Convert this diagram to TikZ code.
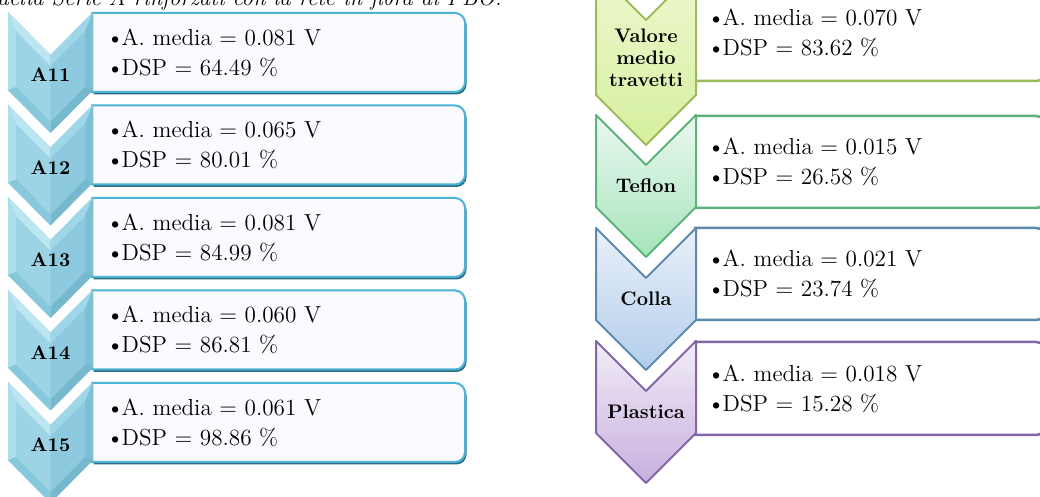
\documentclass[tikz,border=0pt]{standalone}
\usepackage{tikz}
\usetikzlibrary{positioning}

\definecolor{cheva}{HTML}{BCE5F2}
\definecolor{chevb}{HTML}{9FD6E8}
\definecolor{chevc}{HTML}{7DBFD5}
\definecolor{chevd}{HTML}{76B8CE}
\definecolor{cheve}{HTML}{88C8DC}
\definecolor{chevf}{HTML}{AEDDEC}
\definecolor{chevg}{HTML}{9CD4E6}
\definecolor{chevh}{HTML}{8DCAE0}
\definecolor{bluebox}{HTML}{4BB3D6}
\definecolor{blueshade}{HTML}{2F6F84}
\definecolor{boxfill}{HTML}{FBFBFF}

\definecolor{valoreline}{HTML}{9BBB59}
\definecolor{valoretop}{HTML}{EEF8D0}
\definecolor{valorebot}{HTML}{D5EF9E}
\definecolor{teflonline}{HTML}{5CB37C}
\definecolor{teflontop}{HTML}{EAF8EF}
\definecolor{teflonbot}{HTML}{A6E4BB}
\definecolor{collaline}{HTML}{5E8AAE}
\definecolor{collatop}{HTML}{E9F0FA}
\definecolor{collabot}{HTML}{B3CEEB}
\definecolor{plasticaline}{HTML}{8466A8}
\definecolor{plasticatop}{HTML}{F2ECF7}
\definecolor{plasticabot}{HTML}{C7B0DE}

\tikzset{
  boxtext/.style={font=\fontsize{11.6}{15}\selectfont, align=left, anchor=west, inner sep=0pt},
  chevlabel/.style={font=\fontsize{9.8}{11}\selectfont\bfseries, align=center, inner sep=0pt},
  leftbox/.style={draw=bluebox, fill=boxfill, line width=1pt},
  rightbox/.style={draw=#1, fill=white, line width=1.25pt},
}

\newcommand{\bul}{\textbullet\kern-1.2pt}

% #1 name, #2 top, #3 label, #4 A. media, #5 DSP
\newcommand{\leftrow}[5]{%
  \begin{scope}[shift={(0,#2)}]
    \fill[blueshade] (93.5,3) -- (300,3) [rounded corners=5pt] -- (466.5,3) -- (466.5,82.5) -- (300,82.5) [sharp corners] -- (93.5,82.5) -- cycle;
    \draw[leftbox] (92,1) -- (300,1) [rounded corners=5pt] -- (465,1) -- (465,80) -- (300,80) [sharp corners] -- (92,80) -- cycle;
    \coordinate (o1) at (8,0);      \coordinate (i1) at (16,19.4);
    \coordinate (o2) at (50.5,43);  \coordinate (i2) at (50.5,54.3);
    \coordinate (o3) at (93,0);     \coordinate (i3) at (85,19.4);
    \coordinate (o4) at (93,78);    \coordinate (i4) at (85,74.7);
    \coordinate (o5) at (50.5,121); \coordinate (i5) at (50.5,109.7);
    \coordinate (o6) at (8,78);     \coordinate (i6) at (16,74.7);
    \fill[chevh] (o1) -- (o2) -- (o3) -- (o4) -- (o5) -- (o6) -- cycle;
    \fill[cheva] (o1) -- (o2) -- (i2) -- (i1) -- cycle;
    \fill[chevb] (o2) -- (o3) -- (i3) -- (i2) -- cycle;
    \fill[chevc] (o3) -- (o4) -- (i4) -- (i3) -- cycle;
    \fill[chevd] (o4) -- (o5) -- (i5) -- (i4) -- cycle;
    \fill[cheve] (o5) -- (o6) -- (i6) -- (i5) -- cycle;
    \fill[chevf] (o6) -- (o1) -- (i1) -- (i6) -- cycle;
    \fill[chevg] (i1) -- (i2) -- (i5) -- (i6) -- cycle;
    \fill[chevh] (i2) -- (i3) -- (i4) -- (i5) -- cycle;
    \node[boxtext] (#1txt) at (106,40.5) {\bul A. media = #4 V\\\bul DSP = #5 \%};
    \node[chevlabel] (#1lbl) at (50.5,63) {#3};
  \end{scope}}

% #1 name, #2 chevron top, #3 side, #4 box top, #5 box bottom, #6 colours, #7 label, #8 A. media, #9 DSP
\newcommand{\rightrow}[9]{%
  \draw[rightbox=#6line] (695,#4) -- (850,#4) [rounded corners=5pt] -- (1046,#4) -- (1046,#5) -- (850,#5) [sharp corners] -- (695,#5) -- cycle;
  \shade[top color=#6top, bottom color=#6bot, draw=#6line, line width=1pt, line join=round]
    (596,#2) -- (646,#2+50) -- (696,#2) -- (696,#2+#3) -- (646,#2+#3+50) -- (596,#2+#3) -- cycle;
  \node[boxtext] (#1txt) at (707,{(#4+#5)/2}) {\bul A. media = #8 V\\\bul DSP = #9 \%};
  \node[chevlabel] (#1lbl) at (646,{#2+(#3+50)/2}) {#7};}

\begin{document}
\begin{tikzpicture}[x=0.5pt, y=-0.5pt]
  \useasboundingbox (0,0) rectangle (1040,497);
  \fill[white] (0,0) rectangle (1040,497);
  \clip (0,0) rectangle (1040,497);

  \node[font=\fontsize{11.4}{13}\selectfont\itshape, anchor=base west, inner sep=0pt] (caption) at (-3,6)
    {della Serie A rinforzati con la rete in fibra di PBO:};

  \leftrow{a11}{12}{A11}{0.081}{64.49}
  \leftrow{a12}{104.5}{A12}{0.065}{80.01}
  \leftrow{a13}{197}{A13}{0.081}{84.99}
  \leftrow{a14}{289.5}{A14}{0.060}{86.81}
  \leftrow{a15}{382}{A15}{0.061}{98.86}

  \rightrow{valore}{-30}{125}{-15}{81}{valore}{Valore\\medio\\travetti}{0.070}{83.62}
  \rightrow{teflon}{115}{92}{116}{208}{teflon}{Teflon}{0.015}{26.58}
  \rightrow{colla}{228}{92}{228}{320}{colla}{Colla}{0.021}{23.74}
  \rightrow{plastica}{341}{92}{342}{435}{plastica}{Plastica}{0.018}{15.28}
\end{tikzpicture}
\end{document}
